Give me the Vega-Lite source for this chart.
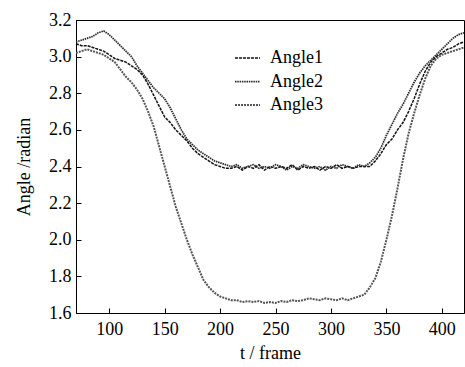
{
  "$schema": "https://vega.github.io/schema/vega-lite/v6.json",
  "width": 388,
  "height": 293,
  "autosize": {"type": "none"},
  "padding": {"left": 76, "top": 20, "right": 1, "bottom": 54},
  "background": "white",
  "config": {
    "font": "Liberation Serif",
    "view": {"stroke": "black", "strokeWidth": 1},
    "axis": {"labelFont": "Liberation Serif", "titleFont": "Liberation Serif", "labelFontSize": 18, "titleFontSize": 18, "labelColor": "black", "titleColor": "black", "titleFontWeight": "normal", "domainColor": "black", "tickColor": "black", "grid": false}
  },
  "data": {"values": [
    {"t":70,"a1":3.07,"a2":3.08,"a3":3.02},
    {"t":75,"a1":3.06,"a2":3.09,"a3":3.03},
    {"t":80,"a1":3.06,"a2":3.10,"a3":3.04},
    {"t":85,"a1":3.05,"a2":3.11,"a3":3.03},
    {"t":90,"a1":3.04,"a2":3.13,"a3":3.02},
    {"t":95,"a1":3.03,"a2":3.14,"a3":3.01},
    {"t":100,"a1":3.01,"a2":3.12,"a3":2.99},
    {"t":105,"a1":2.99,"a2":3.09,"a3":2.97},
    {"t":110,"a1":2.98,"a2":3.06,"a3":2.93},
    {"t":115,"a1":2.97,"a2":3.03,"a3":2.89},
    {"t":120,"a1":2.95,"a2":3.00,"a3":2.86},
    {"t":125,"a1":2.93,"a2":2.95,"a3":2.82},
    {"t":130,"a1":2.90,"a2":2.91,"a3":2.77},
    {"t":135,"a1":2.85,"a2":2.87,"a3":2.70},
    {"t":140,"a1":2.79,"a2":2.83,"a3":2.62},
    {"t":145,"a1":2.73,"a2":2.80,"a3":2.51},
    {"t":150,"a1":2.67,"a2":2.77,"a3":2.40},
    {"t":155,"a1":2.64,"a2":2.72,"a3":2.29},
    {"t":160,"a1":2.60,"a2":2.66,"a3":2.18},
    {"t":165,"a1":2.57,"a2":2.60,"a3":2.09},
    {"t":170,"a1":2.54,"a2":2.55,"a3":2.00},
    {"t":175,"a1":2.50,"a2":2.52,"a3":1.92},
    {"t":180,"a1":2.47,"a2":2.49,"a3":1.85},
    {"t":185,"a1":2.45,"a2":2.47,"a3":1.78},
    {"t":190,"a1":2.43,"a2":2.45,"a3":1.74},
    {"t":195,"a1":2.41,"a2":2.43,"a3":1.71},
    {"t":200,"a1":2.40,"a2":2.42,"a3":1.69},
    {"t":205,"a1":2.39,"a2":2.41,"a3":1.68},
    {"t":210,"a1":2.39,"a2":2.40,"a3":1.67},
    {"t":215,"a1":2.40,"a2":2.41,"a3":1.67},
    {"t":220,"a1":2.38,"a2":2.39,"a3":1.66},
    {"t":225,"a1":2.40,"a2":2.40,"a3":1.665},
    {"t":230,"a1":2.39,"a2":2.41,"a3":1.66},
    {"t":235,"a1":2.41,"a2":2.39,"a3":1.665},
    {"t":240,"a1":2.38,"a2":2.40,"a3":1.655},
    {"t":245,"a1":2.40,"a2":2.39,"a3":1.66},
    {"t":250,"a1":2.39,"a2":2.41,"a3":1.655},
    {"t":255,"a1":2.40,"a2":2.40,"a3":1.665},
    {"t":260,"a1":2.39,"a2":2.38,"a3":1.66},
    {"t":265,"a1":2.41,"a2":2.40,"a3":1.67},
    {"t":270,"a1":2.38,"a2":2.39,"a3":1.665},
    {"t":275,"a1":2.40,"a2":2.41,"a3":1.67},
    {"t":280,"a1":2.39,"a2":2.40,"a3":1.68},
    {"t":285,"a1":2.40,"a2":2.39,"a3":1.675},
    {"t":290,"a1":2.38,"a2":2.40,"a3":1.67},
    {"t":295,"a1":2.40,"a2":2.38,"a3":1.68},
    {"t":300,"a1":2.39,"a2":2.40,"a3":1.675},
    {"t":305,"a1":2.41,"a2":2.39,"a3":1.67},
    {"t":310,"a1":2.39,"a2":2.41,"a3":1.68},
    {"t":315,"a1":2.40,"a2":2.40,"a3":1.67},
    {"t":320,"a1":2.39,"a2":2.39,"a3":1.68},
    {"t":325,"a1":2.40,"a2":2.41,"a3":1.69},
    {"t":330,"a1":2.40,"a2":2.40,"a3":1.70},
    {"t":335,"a1":2.40,"a2":2.42,"a3":1.74},
    {"t":340,"a1":2.43,"a2":2.45,"a3":1.79},
    {"t":345,"a1":2.47,"a2":2.50,"a3":1.88},
    {"t":350,"a1":2.52,"a2":2.57,"a3":2.00},
    {"t":355,"a1":2.55,"a2":2.63,"a3":2.13},
    {"t":360,"a1":2.60,"a2":2.69,"a3":2.28},
    {"t":365,"a1":2.64,"a2":2.74,"a3":2.44},
    {"t":370,"a1":2.70,"a2":2.80,"a3":2.58},
    {"t":375,"a1":2.77,"a2":2.86,"a3":2.69},
    {"t":380,"a1":2.85,"a2":2.91,"a3":2.79},
    {"t":385,"a1":2.92,"a2":2.95,"a3":2.88},
    {"t":390,"a1":2.97,"a2":2.98,"a3":2.95},
    {"t":395,"a1":3.00,"a2":3.01,"a3":2.99},
    {"t":400,"a1":3.02,"a2":3.04,"a3":3.01},
    {"t":405,"a1":3.04,"a2":3.07,"a3":3.02},
    {"t":410,"a1":3.05,"a2":3.10,"a3":3.03},
    {"t":415,"a1":3.07,"a2":3.12,"a3":3.04},
    {"t":420,"a1":3.08,"a2":3.13,"a3":3.05}
  ]},
  "transform": [
    {"fold": ["a1", "a2", "a3"], "as": ["key", "angle"]},
    {"lookup": "key", "from": {"data": {"values": [{"key":"a1","series":"Angle1"},{"key":"a2","series":"Angle2"},{"key":"a3","series":"Angle3"}]}, "key": "key", "fields": ["series"]}}
  ],
  "mark": {"type": "line", "clip": true},
  "encoding": {
    "x": {"field": "t", "type": "quantitative", "scale": {"domain": [70, 420], "nice": false, "zero": false},
      "axis": {"title": "t / frame", "values": [100,150,200,250,300,350,400], "tickSize": -5, "labelPadding": 12, "titlePadding": 6, "domain": true}},
    "y": {"field": "angle", "type": "quantitative", "scale": {"domain": [1.6, 3.2], "nice": false, "zero": false},
      "axis": {"title": "Angle /radian", "format": ".1f", "values": [1.6,1.8,2.0,2.2,2.4,2.6,2.8,3.0,3.2], "tickSize": -5, "labelPadding": 10, "titlePadding": 15}},
    "color": {"field": "series", "type": "nominal", "scale": {"domain": ["Angle1","Angle2","Angle3"], "range": ["#111111","#2a2a2a","#555555"]},
      "legend": {"title": null, "orient": "none", "legendX": 158, "legendY": 28, "symbolType": "stroke", "symbolSize": 625, "symbolStrokeWidth": 1.5, "clipHeight": 20, "labelFontSize": 18, "labelFont": "Liberation Serif", "labelColor": "black", "labelOffset": 9, "rowPadding": 3.5}},
    "strokeWidth": {"field": "series", "type": "nominal", "scale": {"domain": ["Angle1","Angle2","Angle3"], "range": [1.5, 2, 1.3]}, "legend": null},
    "strokeDash": {"field": "series", "type": "nominal", "scale": {"domain": ["Angle1","Angle2","Angle3"], "range": [[3,1],[1.5,0.8],[2,1]]}, "legend": null}
  }
}
